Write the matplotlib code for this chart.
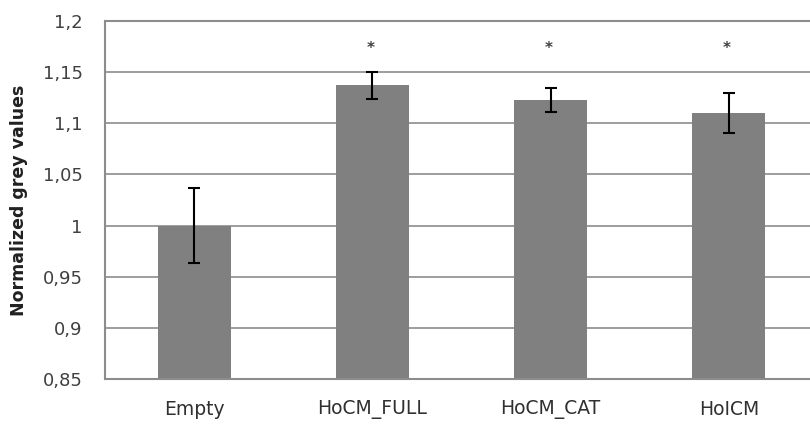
import numpy as np
import matplotlib.pyplot as plt

# groups, means and error bars
groups = ['Empty', 'HoCM_FULL', 'HoCM_CAT', 'HoICM']
means = [1.0, 1.137, 1.123, 1.110]
errs = [0.037, 0.013, 0.0115, 0.0195]
signif = ['', '*', '*', '*']

fig = plt.figure(figsize=(8.1, 4.25), dpi=100)
# right edge of the axes runs a bit past the figure border
ax = fig.add_axes([105/810, 1-379/425, (818-105)/810, (379-21)/425])

x = np.arange(len(groups))
ax.bar(x, means, width=0.41, color='#808080', zorder=2)
ax.errorbar(x, means, yerr=errs, fmt='none', ecolor='black',
            elinewidth=1.5, capsize=4.5, capthick=1.5, zorder=3)

for i, s in enumerate(signif):
    if s:
        ax.text(x[i] - 0.01, 1.173, s, ha='center', va='center',
                fontsize=11, color='#404040', fontweight='bold')

ax.set_xlim(-0.5, len(groups) - 0.5)
ax.set_ylim(0.85, 1.2)
yt = np.arange(0.85, 1.2001, 0.05)
ax.set_yticks(yt)
ax.set_yticklabels([('%g' % round(v, 2)).replace('.', ',') for v in yt],
                   fontsize=13, color='#404040')
ax.set_xticks(x)
ax.set_xticklabels(groups, fontsize=13.5, color='#303030')
ax.tick_params(axis='both', length=0)
ax.tick_params(axis='y', pad=16)
ax.tick_params(axis='x', pad=15)

ax.grid(axis='y', color='#8c8c8c', linewidth=1.2, zorder=0)
ax.set_axisbelow(True)
ax.spines['right'].set_visible(False)
for side in ['left', 'bottom', 'top']:
    ax.spines[side].set_color('#8c8c8c')
    ax.spines[side].set_linewidth(1.5)

fig.text(19/810, 1-200/425, 'Normalized grey values', rotation=90,
         ha='center', va='center', fontsize=12.5, fontweight='bold',
         color='#202020')

fig.savefig('out.png', dpi=100)
